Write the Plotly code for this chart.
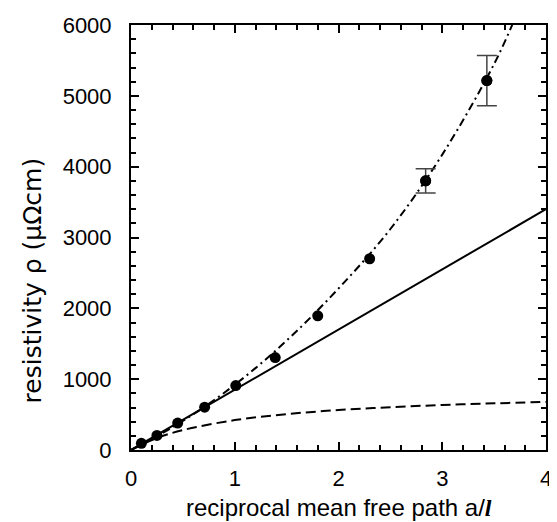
import plotly.graph_objects as go

# measured data (reciprocal mean free path a/l, resistivity in µΩcm)
x_data = [0.1, 0.25, 0.45, 0.71, 1.01, 1.39, 1.80, 2.30, 2.84, 3.43]
y_data = [95, 205, 380, 605, 910, 1305, 1895, 2700, 3800, 5215]
err_plus = [0, 0, 0, 0, 0, 0, 0, 0, 170, 355]
err_minus = [0, 0, 0, 0, 0, 0, 0, 0, 170, 355]

# solid line
x_lin = [0, 4]
y_lin = [0, 3400]

# dashed curve
x_dash = [0, 0.25, 0.5, 1.0, 1.5, 2.0, 2.5, 3.0, 3.5, 4.0]
y_dash = [0, 168, 281, 422, 507, 564, 605, 635, 659, 678]

# dash-dot curve
x_dd = [0, 0.5, 1.0, 1.5, 2.0, 2.5, 3.0, 3.5, 3.7]
y_dd = [0, 410, 920, 1545, 2280, 3120, 4170, 5450, 6090]

x_title = "reciprocal mean free path a/<b><i><span style='font-family:Liberation Serif, serif'>l</span></i></b>"
y_title = "resistivity ρ (μΩcm)"

# points that carry error bars
idx_err = [i for i, e in enumerate(err_plus) if e > 0 or err_minus[i] > 0]

fig = go.Figure()
fig.add_trace(go.Scatter(x=x_lin, y=y_lin, mode="lines",
                         line=dict(color="black", width=2)))
fig.add_trace(go.Scatter(x=x_dash, y=y_dash, mode="lines",
                         line=dict(color="black", width=2, dash="10px,5px", shape="spline")))
fig.add_trace(go.Scatter(x=x_dd, y=y_dd, mode="lines",
                         line=dict(color="black", width=2, dash="8px,4px,2px,4px", shape="spline")))
fig.add_trace(go.Scatter(x=[x_data[i] for i in idx_err], y=[y_data[i] for i in idx_err],
                         mode="markers", marker=dict(color="black", size=11),
                         error_y=dict(type="data", symmetric=False,
                                      array=[err_plus[i] for i in idx_err],
                                      arrayminus=[err_minus[i] for i in idx_err],
                                      color="#444444", thickness=1.5, width=10)))
fig.add_trace(go.Scatter(x=x_data, y=y_data, mode="markers",
                         marker=dict(color="black", size=11)))

font_fam = "Liberation Sans, Arial, sans-serif"
# the page body has an 8px margin; figure sized so the plot lands where the reference has it
fig.update_layout(
    width=549, height=514,
    margin=dict(l=123, r=5, t=7, b=72),
    plot_bgcolor="white", paper_bgcolor="white",
    showlegend=False,
    font=dict(family=font_fam, size=22, color="black"),
    annotations=[
        dict(text=y_title, xref="paper", yref="paper", x=-0.2375, y=0.40,
             xanchor="center", yanchor="middle", textangle=-90, showarrow=False,
             font=dict(family="DejaVu Sans, sans-serif", size=25, color="black")),
        dict(text=x_title, xref="paper", yref="paper", x=0.5, y=-0.136,
             xanchor="center", yanchor="middle", showarrow=False,
             font=dict(family=font_fam, size=24, color="black")),
    ],
)
axis_common = dict(
    showgrid=False, zeroline=False, showline=True, linecolor="black", linewidth=2,
    mirror="ticks", ticks="inside", ticklen=8, tickwidth=2, tickcolor="black",
    tickfont=dict(size=22, family=font_fam), ticklabeloverflow="allow",
)
fig.update_xaxes(range=[0, 4], dtick=1, ticklabelstandoff=8,
                 minor=dict(dtick=0.2, ticks="inside", ticklen=5, tickwidth=1.5, tickcolor="black"),
                 **axis_common)
fig.update_yaxes(range=[0, 6000], dtick=1000, ticklabelstandoff=13,
                 minor=dict(dtick=200, ticks="inside", ticklen=5, tickwidth=1.5, tickcolor="black"),
                 **axis_common)

fig.write_html("out.html")
